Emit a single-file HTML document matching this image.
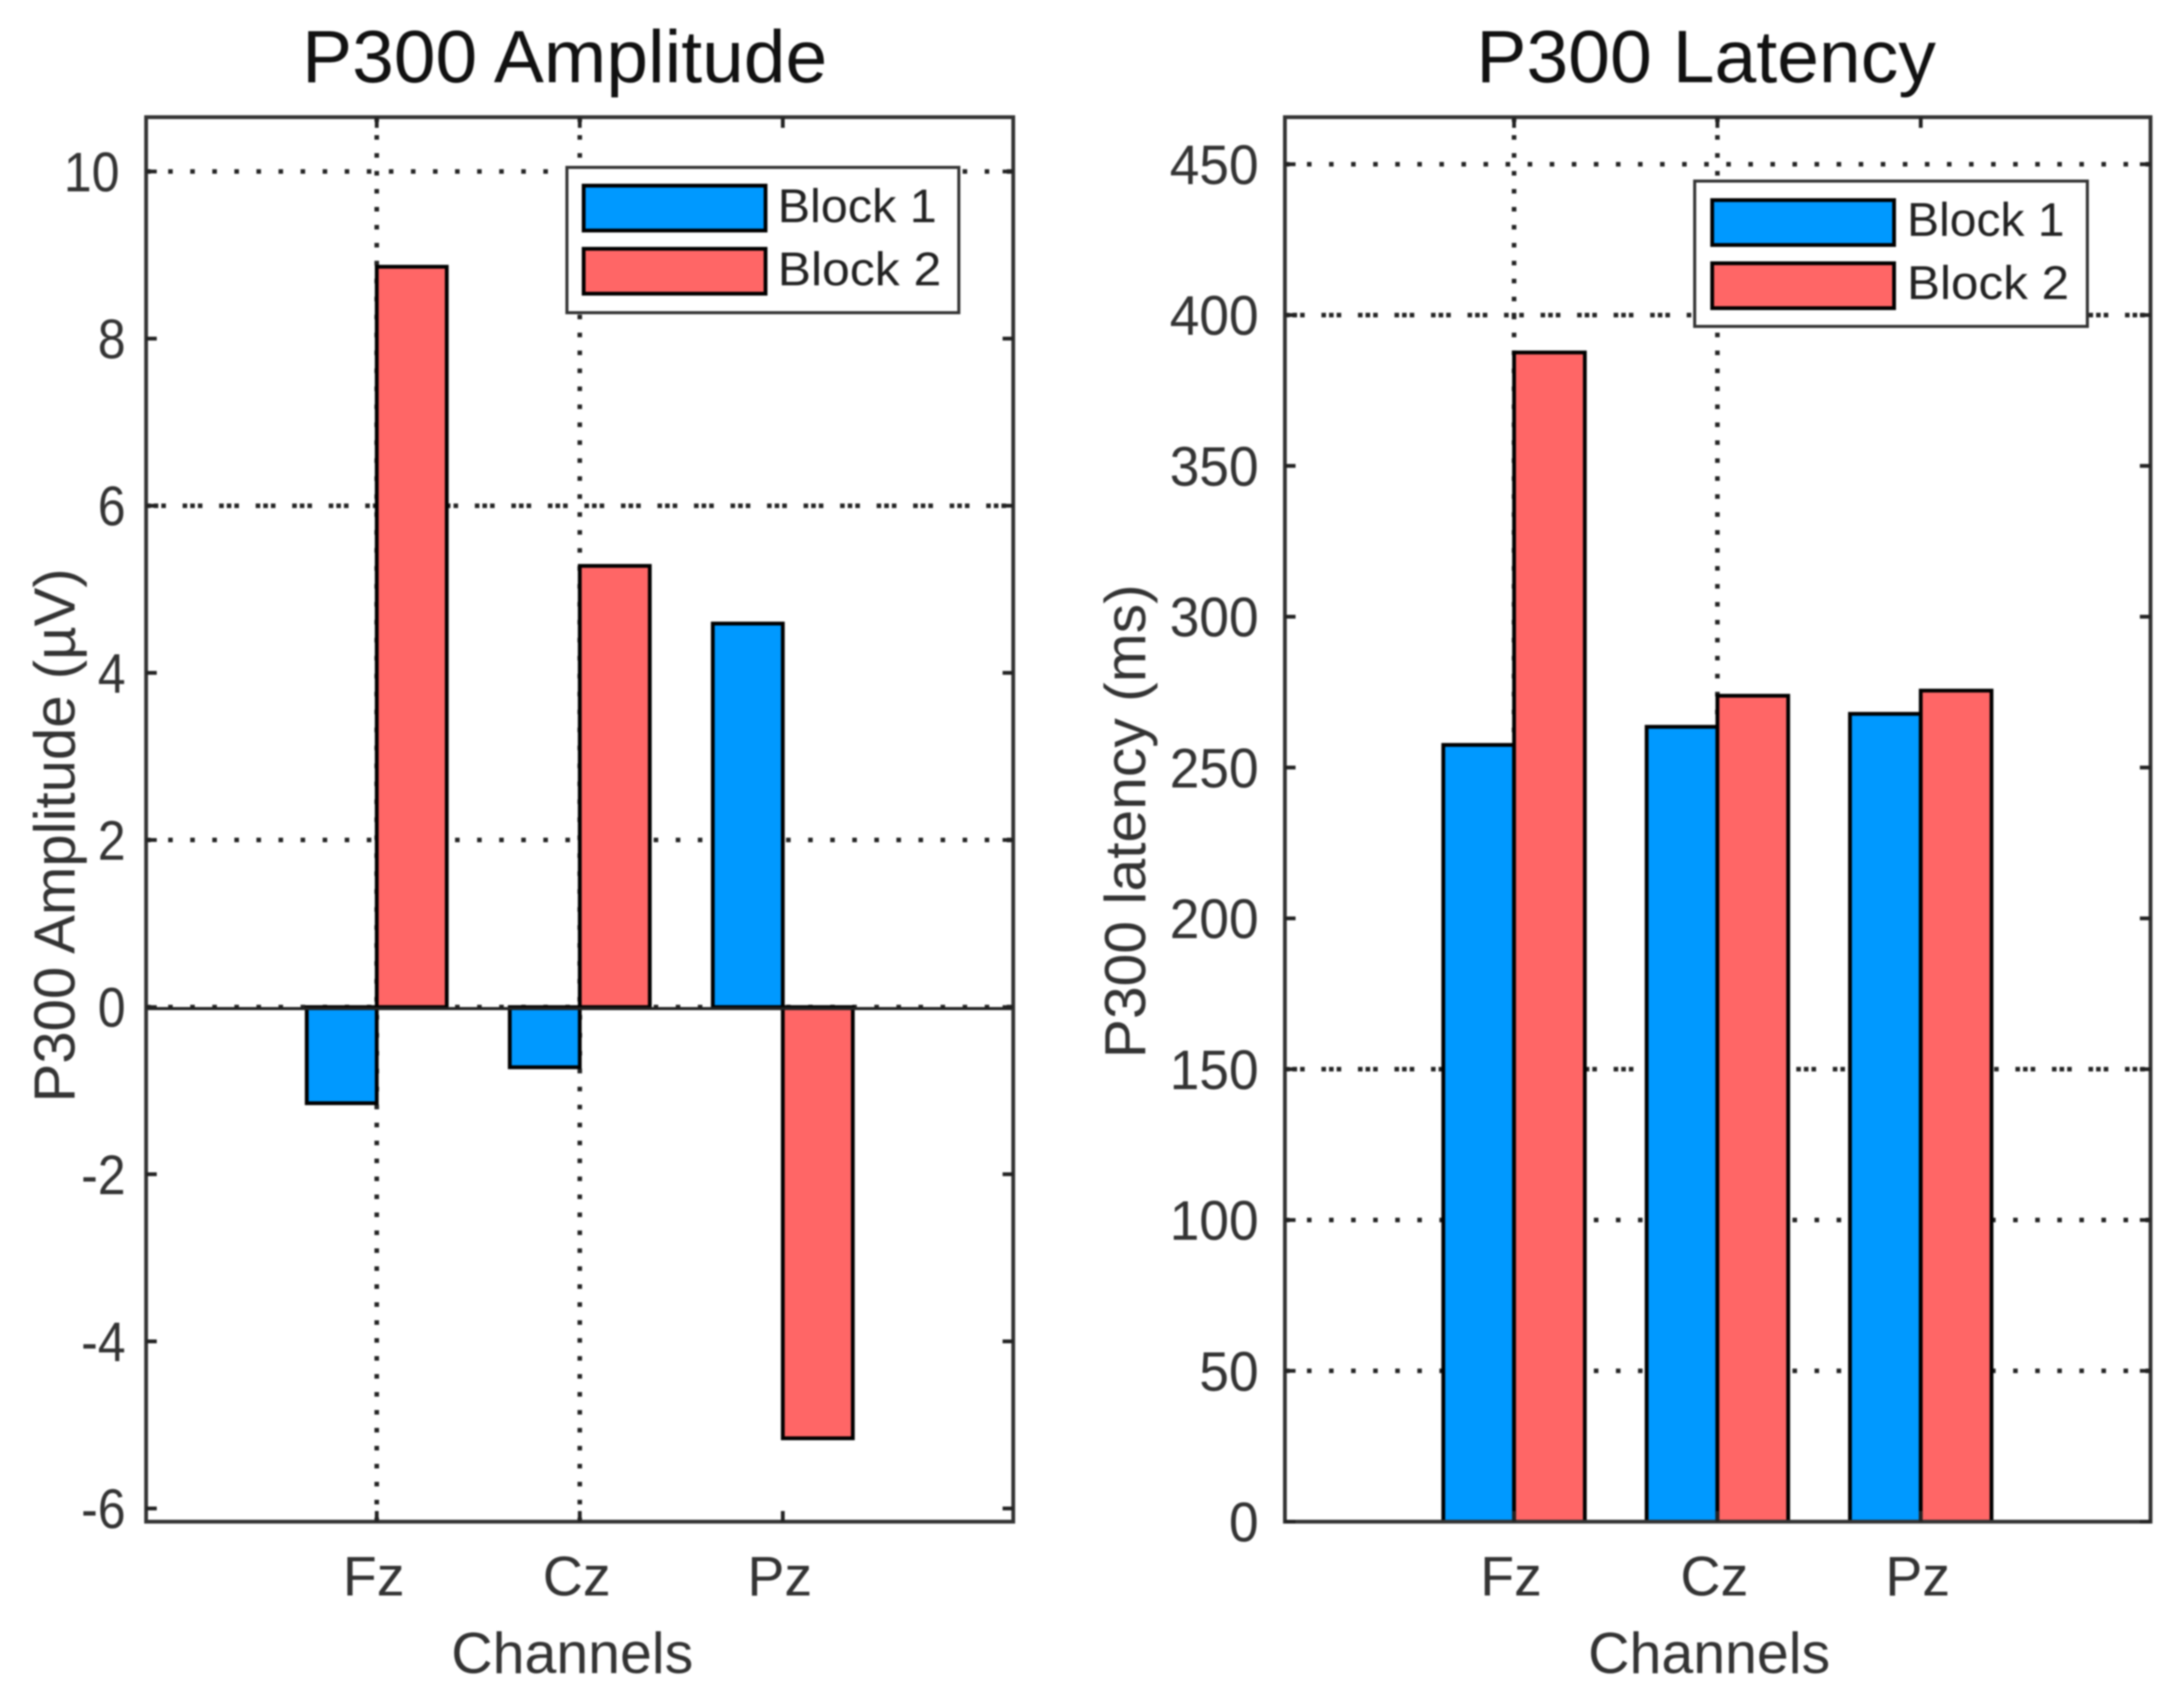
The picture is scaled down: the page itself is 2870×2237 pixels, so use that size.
<!DOCTYPE html>
<html lang="en">
<head>
<meta charset="utf-8">
<title>P300 Amplitude and Latency</title>
<style>
html,body{margin:0;padding:0;background:#fff;width:2870px;height:2237px;overflow:hidden}
svg{display:block;font-family:"Liberation Sans",Arial,sans-serif;filter:blur(1px)}
</style>
</head>
<body>
<svg id="figure" xmlns="http://www.w3.org/2000/svg" width="2870" height="2237" viewBox="0 0 2870 2237">
  <rect x="0" y="0" width="2870" height="2237" fill="#fff"/>

  <g id="amp-panel">
    <g id="amp-grid"></g>
    <g id="amp-bars"></g>
    <g id="amp-axes"></g>
    <text x="742" y="108" text-anchor="middle" font-size="97" fill="#111" textLength="690" lengthAdjust="spacingAndGlyphs">P300 Amplitude</text>
    <text x="752" y="2199" text-anchor="middle" font-size="76" fill="#333" textLength="318" lengthAdjust="spacingAndGlyphs">Channels</text>
    <text transform="translate(98,1449) rotate(-90)" font-size="76" fill="#333" textLength="702" lengthAdjust="spacingAndGlyphs">P300 Amplitude  (µV)</text>
    <g>
      <rect x="745" y="220" width="515" height="191" fill="#fff" stroke="#333" stroke-width="4"/>
      <rect x="767" y="244" width="239" height="59" fill="#0099ff" stroke="#000" stroke-width="5"/>
      <text x="1022" y="292" font-size="62" fill="#222" textLength="209" lengthAdjust="spacingAndGlyphs">Block 1</text>
      <rect x="767" y="327" width="239" height="59" fill="#ff6666" stroke="#000" stroke-width="5"/>
      <text x="1022" y="375" font-size="62" fill="#222" textLength="215" lengthAdjust="spacingAndGlyphs">Block 2</text>
    </g>
  </g>

  <g id="lat-panel">
    <g id="lat-grid"></g>
    <g id="lat-bars"></g>
    <g id="lat-axes"></g>
    <text x="2242" y="108" text-anchor="middle" font-size="97" fill="#111" textLength="604" lengthAdjust="spacingAndGlyphs">P300 Latency</text>
    <text x="2246" y="2199" text-anchor="middle" font-size="76" fill="#333" textLength="318" lengthAdjust="spacingAndGlyphs">Channels</text>
    <text transform="translate(1505,1391) rotate(-90)" font-size="76" fill="#333" textLength="623" lengthAdjust="spacingAndGlyphs">P300 latency  (ms)</text>
    <g>
      <rect x="2227" y="238" width="516" height="191" fill="#fff" stroke="#333" stroke-width="4"/>
      <rect x="2250" y="263" width="239" height="59" fill="#0099ff" stroke="#000" stroke-width="5"/>
      <text x="2506" y="310" font-size="62" fill="#222" textLength="207" lengthAdjust="spacingAndGlyphs">Block 1</text>
      <rect x="2250" y="346" width="239" height="59" fill="#ff6666" stroke="#000" stroke-width="5"/>
      <text x="2506" y="393" font-size="62" fill="#222" textLength="213" lengthAdjust="spacingAndGlyphs">Block 2</text>
    </g>
  </g>
</svg>

<script>
// Data
const categories = ["Fz", "Cz", "Pz"];
const ampBlock1 = [-1.15, -0.72, 4.59];
const ampBlock2 = [8.86, 5.28, -5.16];
const latBlock1 = [257.5, 263.5, 267.8];
const latBlock2 = [387.6, 273.8, 275.5];
const ampTicks = [-6, -4, -2, 0, 2, 4, 6, 8, 10];
const latTicks = [0, 50, 100, 150, 200, 250, 300, 350, 400, 450];
const ampGridSparse = [10, 2, 0];
const ampGridDense = [6];
const latGridSparse = [450, 100, 50];
const latGridDense = [400, 150];
const gridCategories = ["Fz", "Cz"];

const SVG_NS = "http://www.w3.org/2000/svg";

function mk(parent, tag, attrs) {
  const el = document.createElementNS(SVG_NS, tag);
  for (const k in attrs) el.setAttribute(k, attrs[k]);
  parent.appendChild(el);
  return el;
}

function drawPanel(cfg) {
  const gridG = document.getElementById(cfg.prefix + "-grid");
  const barsG = document.getElementById(cfg.prefix + "-bars");
  const axesG = document.getElementById(cfg.prefix + "-axes");
  const xScale = i => cfg.left + ((i + 1) - cfg.xDomain[0]) / (cfg.xDomain[1] - cfg.xDomain[0]) * (cfg.right - cfg.left);
  const yScale = v => cfg.bottom - (v - cfg.yDomain[0]) / (cfg.yDomain[1] - cfg.yDomain[0]) * (cfg.bottom - cfg.top);

  // horizontal grid lines
  cfg.gridSparse.forEach(v => {
    const line = mk(gridG, "line", {x1: cfg.left, x2: cfg.right, y1: yScale(v), y2: yScale(v), stroke: "#222", "stroke-width": 6, "stroke-dasharray": "6 23"});
    
    
  });
  cfg.gridDense.forEach(v => {
    const line = mk(gridG, "line", {x1: cfg.left, x2: cfg.right, y1: yScale(v), y2: yScale(v), stroke: "#222", "stroke-width": 6, "stroke-dasharray": "6 4 6 4 6 22"});
    
    
  });

  // vertical grid lines
  gridCategories.forEach(name => {
    const x = xScale(categories.indexOf(name));
    const line = mk(gridG, "line", {x1: x, x2: x, y1: cfg.top, y2: cfg.bottom, stroke: "#222", "stroke-width": 6, "stroke-dasharray": "6 17.6"});
    
    
  });

  // bars
  const y0 = yScale(0);
  const drawBar = (value, i, side, fill, series) => {
    const c = xScale(i);
    const x = side < 0 ? c - cfg.barWidth : c;
    const yv = yScale(value);
    const bar = mk(barsG, "rect", {x: x, y: Math.min(y0, yv), width: cfg.barWidth, height: Math.abs(y0 - yv), fill: fill, stroke: "#000", "stroke-width": 5});
    
    
  };
  cfg.series1.forEach((v, i) => drawBar(v, i, -1, "#0099ff", "block-1"));
  cfg.series2.forEach((v, i) => drawBar(v, i, 1, "#ff6666", "block-2"));

  // zero baseline (only when zero lies inside the plot)
  if (cfg.yDomain[0] < 0) {
    const baseline = mk(axesG, "line", {x1: cfg.left, x2: cfg.right, y1: y0 + 2, y2: y0 + 2, stroke: "#222", "stroke-width": 4});
    
    
  }

  // axes box
  const box = mk(axesG, "rect", {x: cfg.left, y: cfg.top, width: cfg.right - cfg.left, height: cfg.bottom - cfg.top, fill: "none", stroke: "#333", "stroke-width": 5});
  
  

  // y ticks and labels
  cfg.ticks.forEach(v => {
    const y = yScale(v);
    const tl = mk(axesG, "line", {x1: cfg.left, x2: cfg.left + 14, y1: y, y2: y, stroke: "#222", "stroke-width": 5});
    
    
    const tr = mk(axesG, "line", {x1: cfg.right - 14, x2: cfg.right, y1: y, y2: y, stroke: "#222", "stroke-width": 5});
    
    
    const shift = v >= 10 ? cfg.tenShift : 0;
    const label = mk(axesG, "text", {transform: "translate(" + (cfg.labelEnd - shift) + "," + (y + 26) + ") scale(" + cfg.labelScale + ",1)", "text-anchor": "end", "font-size": 73, fill: "#333"});
    label.textContent = String(v);
    
    
  });

  // x ticks and labels
  categories.forEach((name, i) => {
    const x = xScale(i);
    const tt = mk(axesG, "line", {x1: x, x2: x, y1: cfg.top, y2: cfg.top + 14, stroke: "#222", "stroke-width": 5});
    
    
    const tb = mk(axesG, "line", {x1: x, x2: x, y1: cfg.bottom - 14, y2: cfg.bottom, stroke: "#222", "stroke-width": 5});
    
    
    const label = mk(axesG, "text", {x: x - 4, y: 2097, "text-anchor": "middle", "font-size": 73, fill: "#333"});
    label.textContent = name;
    
    
  });
}

drawPanel({
  prefix: "amp", left: 192, right: 1331.5, top: 154, bottom: 2000,
  xDomain: [-0.136, 4.135], yDomain: [-6.158, 10.65],
  series1: ampBlock1, series2: ampBlock2, ticks: ampTicks,
  gridSparse: ampGridSparse, gridDense: ampGridDense,
  barWidth: 92, labelEnd: 165, tenShift: 8, labelScale: 0.9
});
drawPanel({
  prefix: "lat", left: 1688.5, right: 2826, top: 154, bottom: 2000,
  xDomain: [-0.127, 4.13], yDomain: [0, 465.6],
  series1: latBlock1, series2: latBlock2, ticks: latTicks,
  gridSparse: latGridSparse, gridDense: latGridDense,
  barWidth: 93, labelEnd: 1654, tenShift: 0, labelScale: 0.96
});
</script>
</body>
</html>
